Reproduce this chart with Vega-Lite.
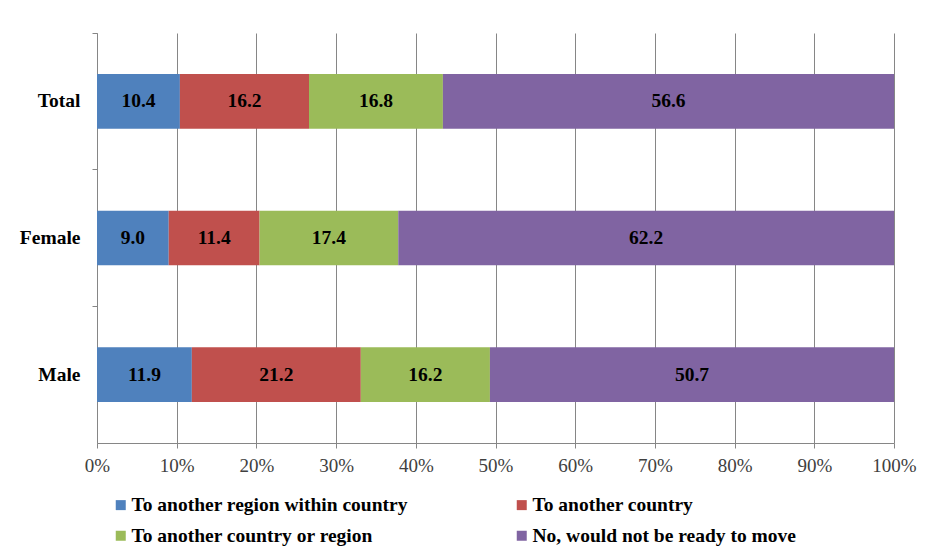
{
  "$schema": "https://vega.github.io/schema/vega-lite/v6.json",
  "width": 797,
  "height": 410,
  "autosize": {"type": "none"},
  "padding": {"left": 97, "top": 33, "right": 33, "bottom": 114},
  "background": "white",
  "config": {
    "view": {"stroke": null},
    "font": "Liberation Serif"
  },
  "data": {
    "values": [
      {"group": "Total", "answer": "To another region within country", "order": 1, "value": 10.4},
      {"group": "Total", "answer": "To another country", "order": 2, "value": 16.2},
      {"group": "Total", "answer": "To another country or region", "order": 3, "value": 16.8},
      {"group": "Total", "answer": "No, would not be ready to move", "order": 4, "value": 56.6},
      {"group": "Female", "answer": "To another region within country", "order": 1, "value": 9.0},
      {"group": "Female", "answer": "To another country", "order": 2, "value": 11.4},
      {"group": "Female", "answer": "To another country or region", "order": 3, "value": 17.4},
      {"group": "Female", "answer": "No, would not be ready to move", "order": 4, "value": 62.2},
      {"group": "Male", "answer": "To another region within country", "order": 1, "value": 11.9},
      {"group": "Male", "answer": "To another country", "order": 2, "value": 21.2},
      {"group": "Male", "answer": "To another country or region", "order": 3, "value": 16.2},
      {"group": "Male", "answer": "No, would not be ready to move", "order": 4, "value": 50.7}
    ]
  },
  "encoding": {
    "y": {
      "field": "group",
      "type": "nominal",
      "sort": ["Total", "Female", "Male"],
      "scale": {"paddingInner": 0, "paddingOuter": 0},
      "axis": {
        "title": null,
        "bandPosition": 0,
        "domainColor": "#868686",
        "tickColor": "#868686",
        "tickSize": 5,
        "labelFont": "Liberation Serif",
        "labelFontSize": 19.5,
        "labelFontWeight": "bold",
        "labelColor": "black",
        "labelPadding": 12
      }
    }
  },
  "layer": [
    {
      "mark": {"type": "bar", "height": {"band": 0.4}},
      "encoding": {
        "x": {
          "field": "value",
          "type": "quantitative",
          "stack": "zero",
          "scale": {"domain": [0, 100], "nice": false},
          "axis": {
            "title": null,
            "values": [0, 10, 20, 30, 40, 50, 60, 70, 80, 90, 100],
            "labelExpr": "datum.value + '%'",
            "labelFlush": false,
            "grid": true,
            "gridColor": "#868686",
            "domainColor": "#868686",
            "tickColor": "#868686",
            "tickSize": 5,
            "labelFont": "Liberation Serif",
            "labelFontSize": 19,
            "labelColor": "#404040",
            "labelPadding": 8
          }
        },
        "color": {
          "field": "answer",
          "type": "nominal",
          "scale": {
            "domain": ["To another region within country", "To another country", "To another country or region", "No, would not be ready to move"],
            "range": ["#4F81BD", "#C0504D", "#9BBB59", "#8064A2"]
          },
          "legend": {
            "title": null,
            "orient": "none",
            "legendX": 14,
            "legendY": 462,
            "direction": "horizontal",
            "columns": 2,
            "columnPadding": 104,
            "rowPadding": 10,
            "symbolType": "square",
            "symbolSize": 100,
            "symbolStrokeWidth": 0,
            "symbolOpacity": 1,
            "labelFont": "Liberation Serif",
            "labelFontSize": 19.5,
            "labelFontWeight": "bold",
            "labelColor": "black",
            "labelLimit": 400,
            "labelOffset": 1
          }
        },
        "order": {"field": "order", "type": "quantitative"}
      }
    },
    {
      "mark": {"type": "text", "font": "Liberation Serif", "fontSize": 19.5, "fontWeight": "bold", "color": "black", "baseline": "middle"},
      "encoding": {
        "x": {"field": "value", "type": "quantitative", "stack": "zero", "bandPosition": 0.5},
        "text": {"field": "value", "type": "quantitative", "format": ".1f"},
        "order": {"field": "order", "type": "quantitative"},
        "detail": {"field": "answer", "type": "nominal"}
      }
    }
  ]
}
